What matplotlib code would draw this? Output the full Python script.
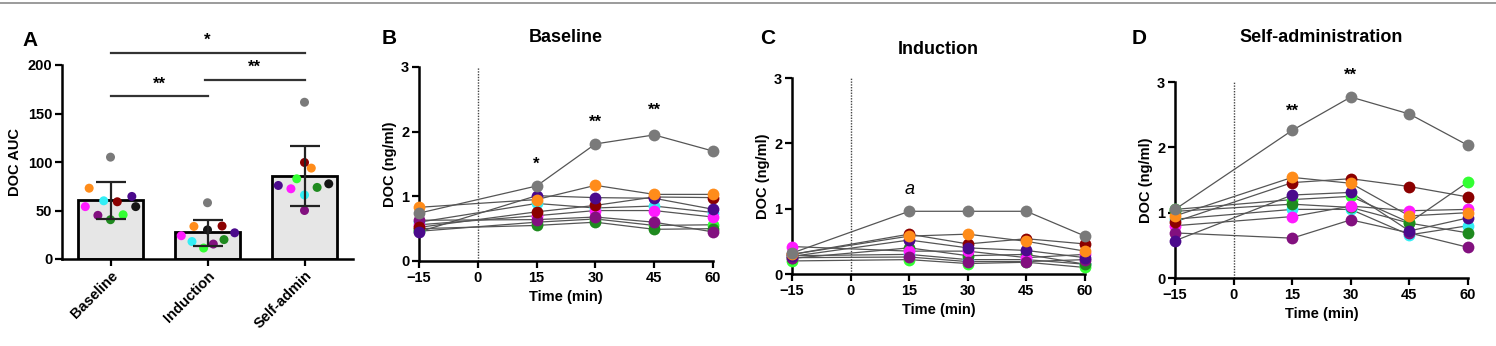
import matplotlib
matplotlib.use("Agg")
import matplotlib.pyplot as plt
from matplotlib.lines import Line2D
import numpy as np

plt.rcParams['font.family'] = ['Liberation Sans', 'DejaVu Sans']
plt.rcParams['font.weight'] = 'bold'

# ---------------- data ----------------
groups = ["Baseline", "Induction", "Self-admin"]
subjects = ["gray", "orange", "magenta", "cyan", "darkred", "indigo", "black", "purple", "green", "lime"]
subject_colors = {
    "gray": "#7a7a7a", "orange": "#ff8c1a", "magenta": "#ff1aff", "cyan": "#33eef5",
    "darkred": "#8b0000", "indigo": "#4b0a8c", "black": "#151515", "purple": "#82107f",
    "green": "#1f8a1f", "lime": "#33ff33",
}
auc_means = [61, 28, 86]
auc_sd_low = [41.5, 13, 55]
auc_sd_high = [79, 40.5, 116]
auc_baseline = [105, 73, 54, 60, 59, 64.5, 54, 45, 40.5, 45.6]
auc_induction = [58, 33.6, 24, 18, 34, 27, 30, 15.4, 20, 11.3]
auc_selfadmin = [161.6, 93.7, 72.4, 66, 99.5, 75.8, 77.5, 50, 73.8, 82.7]
# horizontal jitter of the dots (layout only)
jit_baseline = [0, -0.22, -0.26, -0.07, 0.07, 0.22, 0.26, -0.13, 0, 0.13]
jit_induction = [0, -0.14, -0.27, -0.16, 0.15, 0.28, 0, 0.06, 0.17, -0.04]
jit_selfadmin = [0, 0.07, -0.14, 0, 0, -0.27, 0.25, 0, 0.13, -0.08]

time_min = [-15, 15, 30, 45, 60]
line_subjects = ["cyan", "lime", "green", "magenta", "purple", "darkred", "indigo", "orange", "gray"]

doc_baseline = {
    "gray":    [0.74, 1.16, 1.81, 1.95, 1.70],
    "orange":  [0.83, 0.95, 1.17, 1.03, 1.03],
    "indigo":  [0.45, 1.01, 0.98, 0.97, 0.80],
    "cyan":    [0.60, 0.89, 0.82, 0.85, 0.75],
    "darkred": [0.52, 0.76, 0.86, 0.99, 0.98],
    "magenta": [0.56, 0.70, 0.78, 0.78, 0.68],
    "purple":  [0.63, 0.64, 0.68, 0.60, 0.45],
    "green":   [0.50, 0.55, 0.60, 0.49, 0.50],
    "lime":    [0.46, 0.60, 0.65, 0.55, 0.56],
}
doc_induction = {
    "gray":    [0.32, 0.96, 0.96, 0.96, 0.58],
    "orange":  [0.30, 0.58, 0.61, 0.50, 0.35],
    "darkred": [0.30, 0.61, 0.46, 0.54, 0.46],
    "indigo":  [0.27, 0.52, 0.40, 0.36, 0.25],
    "green":   [0.24, 0.40, 0.28, 0.30, 0.15],
    "magenta": [0.42, 0.35, 0.35, 0.25, 0.30],
    "cyan":    [0.28, 0.30, 0.22, 0.22, 0.15],
    "purple":  [0.25, 0.26, 0.19, 0.19, 0.22],
    "lime":    [0.20, 0.22, 0.16, 0.18, 0.10],
}
doc_selfadmin = {
    "gray":    [1.05, 2.26, 2.77, 2.51, 2.03],
    "orange":  [0.95, 1.54, 1.45, 0.95, 1.00],
    "darkred": [0.86, 1.46, 1.52, 1.40, 1.24],
    "indigo":  [0.57, 1.27, 1.31, 0.72, 0.92],
    "green":   [1.02, 1.13, 1.08, 0.84, 0.69],
    "lime":    [1.05, 1.20, 1.25, 0.85, 1.47],
    "magenta": [0.80, 0.94, 1.10, 1.03, 1.05],
    "purple":  [0.69, 0.61, 0.89, 0.69, 0.47],
    "cyan":    [0.90, 1.05, 1.05, 0.66, 0.80],
}

# ---------------- figure ----------------
fig = plt.figure(figsize=(14.96, 3.46), dpi=100)
fig.add_artist(Line2D([0, 1], [1 - 3 / 346, 1 - 3 / 346], color="#8a8a8a", lw=1.2))

TICK_FS = 10.5
LAB_FS = 10.5


def style_axes(ax):
    for s in ("top", "right"):
        ax.spines[s].set_visible(False)
    for s in ("left", "bottom"):
        ax.spines[s].set_linewidth(1.8)
    ax.tick_params(direction="out", length=5, width=1.6, labelsize=TICK_FS, pad=2)
    for lab in ax.get_xticklabels() + ax.get_yticklabels():
        lab.set_fontweight("bold")


# ---- Panel A ----
axA = fig.add_axes([62 / 1496, 1 - 259 / 346, 291 / 1496, 194 / 346])
xs = np.arange(len(groups))
axA.bar(xs, auc_means, width=0.67, color="#e6e6e6", edgecolor="black", linewidth=2, zorder=1)
for gi, (vals, jit) in enumerate([(auc_baseline, jit_baseline), (auc_induction, jit_induction),
                                  (auc_selfadmin, jit_selfadmin)]):
    for s, v, j in zip(subjects, vals, jit):
        axA.scatter(gi + j, v, s=42, color=subject_colors[s], edgecolors="none", zorder=3)
yerr = [np.array(auc_means) - np.array(auc_sd_low), np.array(auc_sd_high) - np.array(auc_means)]
axA.errorbar(xs, auc_means, yerr=yerr, fmt="none", ecolor="#222222", elinewidth=1.6,
             capsize=11, capthick=1.6, zorder=4)
axA.set_xlim(-0.5, 2.5)
axA.set_ylim(0, 200)
axA.set_yticks([0, 50, 100, 150, 200])
axA.set_xticks(xs)
axA.set_xticklabels(groups, rotation=45, ha="right", rotation_mode="anchor")
axA.set_ylabel("DOC AUC", fontsize=LAB_FS, fontweight="bold", labelpad=4)
style_axes(axA)
# significance bars
for (x0, x1, y, txt, ty) in [(0, 1, 168, "**", 176), (0.97, 2, 184.5, "**", 193), (0, 2, 212, "*", 221)]:
    axA.plot([x0, x1], [y, y], color="#333333", lw=1.6, clip_on=False)
    axA.text((x0 + x1) / 2, ty, txt, ha="center", va="baseline", fontsize=12,
             fontweight="bold", clip_on=False)
fig.text(22 / 1496, 1 - 40 / 346, "A", fontsize=15, fontweight="bold", va="center", ha="left")


def line_panel(rect, data, title, title_y, letter, letter_x, marks):
    ax = fig.add_axes(rect)
    ax.axvline(0, ymin=0, ymax=1, color="#444444", ls=(0, (1, 1)), lw=1.0, zorder=1)
    for s in line_subjects:
        ax.plot(time_min, data[s], color="#555555", lw=0.9, zorder=2)
    for s in line_subjects:
        ax.plot(time_min, data[s], ls="none", marker="o", ms=8.5, mfc=subject_colors[s],
                mec="none", zorder=3, clip_on=False)
    ax.set_xlim(-15, 60)
    ax.set_ylim(0, 3)
    ax.set_xticks([-15, 0, 15, 30, 45, 60])
    ax.set_yticks([0, 1, 2, 3])
    ax.set_xlabel("Time (min)", fontsize=LAB_FS, fontweight="bold", labelpad=4)
    ax.set_ylabel("DOC (ng/ml)", fontsize=LAB_FS, fontweight="bold", labelpad=3)
    style_axes(ax)
    for (x, y, txt, it) in marks:
        ax.text(x, y, txt, ha="center", va="baseline", fontsize=12 if not it else 13,
                fontweight="bold" if not it else "normal", style="italic" if it else "normal",
                clip_on=False)
    l, b, w, h = rect
    fig.text(l + w / 2, 1 - title_y / 346, title, ha="center", va="center", fontsize=13,
             fontweight="bold")
    fig.text(letter_x / 1496, 1 - 38 / 346, letter, ha="left", va="center", fontsize=15,
             fontweight="bold")
    return ax


line_panel([419 / 1496, 1 - 261 / 346, 294 / 1496, 194 / 346], doc_baseline, "Baseline", 37, "B", 382,
           [(15, 1.43, "*", False), (30, 2.08, "**", False), (45, 2.26, "**", False)])
line_panel([792 / 1496, 1 - 274 / 346, 293 / 1496, 196 / 346], doc_induction, "Induction", 49, "C", 760,
           [(15, 1.22, "a", True)])
line_panel([1175 / 1496, 1 - 278 / 346, 293 / 1496, 196 / 346], doc_selfadmin, "Self-administration", 37,
           "D", 1132, [(15, 2.49, "**", False), (30, 3.03, "**", False)])

fig.savefig("out.png", dpi=100)
